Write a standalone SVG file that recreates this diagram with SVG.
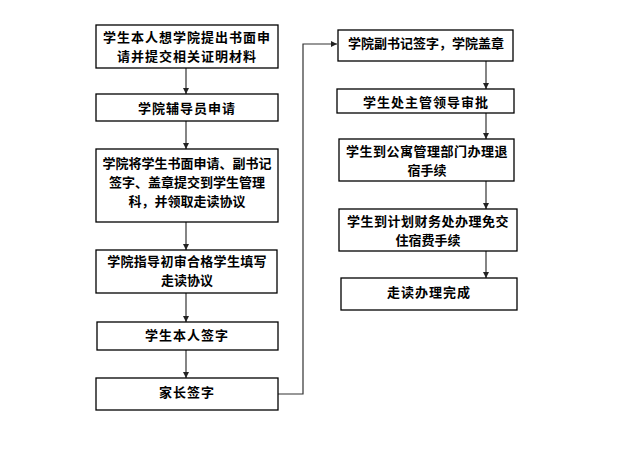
<svg xmlns="http://www.w3.org/2000/svg" width="636" height="466" viewBox="0 0 636 466">
<style>
.box{fill:#fff;stroke:#000;stroke-width:1.3}
.t{font-family:"Noto Sans CJK SC","Noto Sans CJK JP",sans-serif;font-size:13px;font-weight:bold;fill:#000}
.c{text-anchor:middle}
.ln{stroke:#333;stroke-width:1.2;fill:none}
</style>
<defs>
<marker id="ah" viewBox="0 0 8 8" refX="8" refY="4" markerWidth="6" markerHeight="6" orient="auto" markerUnits="userSpaceOnUse">
<path d="M0,0 L8,4 L0,8 Z" fill="#222"/>
</marker>
</defs>
<rect width="636" height="466" fill="#fff"/>
<g id="connectors">
<line class="ln" x1="186" y1="68" x2="186" y2="94" marker-end="url(#ah)"/>
<line class="ln" x1="186" y1="121" x2="186" y2="149" marker-end="url(#ah)"/>
<line class="ln" x1="186" y1="222" x2="186" y2="250" marker-end="url(#ah)"/>
<line class="ln" x1="186" y1="293" x2="186" y2="322" marker-end="url(#ah)"/>
<line class="ln" x1="186" y1="350" x2="186" y2="378" marker-end="url(#ah)"/>
<polyline class="ln" stroke="#666" points="278,394 303,394 303,44 337,44" marker-end="url(#ah)"/>
<line class="ln" x1="486" y1="61" x2="486" y2="89" marker-end="url(#ah)"/>
<line class="ln" x1="486" y1="113" x2="486" y2="139" marker-end="url(#ah)"/>
<line class="ln" x1="486" y1="181" x2="486" y2="209" marker-end="url(#ah)"/>
<line class="ln" x1="486" y1="251" x2="486" y2="278" marker-end="url(#ah)"/>
</g>
<g id="n1"><rect class="box" x="96" y="25" width="182" height="43"/>
<text class="t c" x="187" y="42" letter-spacing="1">学生本人想学院提出书面申</text>
<text class="t c" x="187" y="61" letter-spacing="1">请并提交相关证明材料</text></g>
<g id="n2"><rect class="box" x="96" y="94" width="182" height="27"/>
<text class="t c" x="187" y="113" letter-spacing="1">学院辅导员申请</text></g>
<g id="n3"><rect class="box" x="96" y="149" width="182" height="73"/>
<text class="t c" x="187" y="168">学院将学生书面申请、副书记</text>
<text class="t c" x="187" y="187">签字、盖章提交到学生管理</text>
<text class="t c" x="187" y="206">科，并领取走读协议</text></g>
<g id="n4"><rect class="box" x="96" y="250" width="181" height="43"/>
<text class="t c" x="187" y="266" letter-spacing="0.3">学院指导初审合格学生填写</text>
<text class="t c" x="187" y="285">走读协议</text></g>
<g id="n5"><rect class="box" x="97" y="322" width="181" height="28"/>
<text class="t c" x="187" y="340" letter-spacing="1">学生本人签字</text></g>
<g id="n6"><rect class="box" x="96" y="378" width="182" height="32"/>
<text class="t c" x="187" y="397" letter-spacing="1">家长签字</text></g>
<g id="r1"><rect class="box" x="338" y="30" width="175" height="31"/>
<text class="t c" x="426" y="48">学院副书记签字，学院盖章</text></g>
<g id="r2"><rect class="box" x="337" y="89" width="177" height="24"/>
<text class="t c" x="426" y="107" letter-spacing="1">学生处主管领导审批</text></g>
<g id="r3"><rect class="box" x="339" y="139" width="175" height="42"/>
<text class="t c" x="427" y="156" letter-spacing="0.5">学生到公寓管理部门办理退</text>
<text class="t c" x="427" y="175">宿手续</text></g>
<g id="r4"><rect class="box" x="339" y="209" width="178" height="42"/>
<text class="t c" x="428" y="226" letter-spacing="0.5">学生到计划财务处办理免交</text>
<text class="t c" x="428" y="245">住宿费手续</text></g>
<g id="r5"><rect class="box" x="341" y="278" width="176" height="32"/>
<text class="t c" x="429" y="297" letter-spacing="1">走读办理完成</text></g>
</svg>
